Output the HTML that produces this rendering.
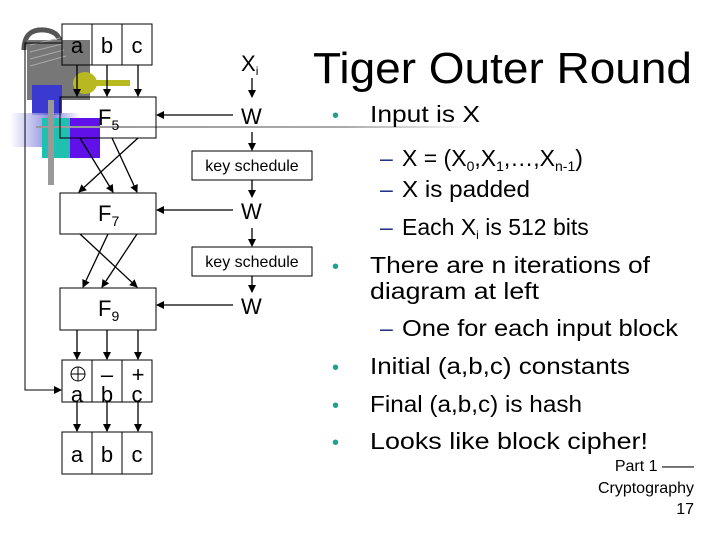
<!DOCTYPE html>
<html><head><style>
body{margin:0;background:#fff;}
svg text{font-family:"Liberation Sans",sans-serif;}
</style></head><body>
<svg width="720" height="540" xmlns="http://www.w3.org/2000/svg">
<defs>
<marker id="ar" markerWidth="8" markerHeight="8" refX="7" refY="4" orient="auto" markerUnits="userSpaceOnUse"><path d="M0,0 L8,4 L0,8 z" fill="#000"/></marker>
<linearGradient id="bg1" x1="0" x2="1"><stop offset="0" stop-color="#fff"/><stop offset="0.6" stop-color="#6a6ad8"/><stop offset="1" stop-color="#fff"/></linearGradient>
<linearGradient id="gl" x1="0" x2="1"><stop offset="0" stop-color="#999"/><stop offset="0.7" stop-color="#aaa"/><stop offset="1" stop-color="#fff"/></linearGradient>
</defs>
<path d="M24,50 Q24,28 45,30 Q62,32 60,48" fill="none" stroke="#555" stroke-width="5"/>
<rect x="27" y="40" width="63" height="60" fill="#777"/>
<g stroke="#aaa" stroke-width="1">
<line x1="30" y1="45" x2="60" y2="38"/><line x1="30" y1="52" x2="62" y2="44"/><line x1="30" y1="59" x2="64" y2="50"/><line x1="30" y1="66" x2="66" y2="56"/>
</g>
<rect x="32" y="85" width="30" height="30" fill="#3a3ad0"/>
<rect x="10" y="113" width="70" height="34" fill="url(#bg1)" opacity="0.8"/>
<rect x="42" y="118" width="28" height="40" fill="#20c0b0"/>
<rect x="70" y="118" width="30" height="40" fill="#6010e8"/>
<rect x="48" y="100" width="6" height="85" fill="#999"/>
<ellipse cx="85" cy="83" rx="12" ry="11" fill="#b8b820"/>
<rect x="85" y="80" width="45" height="6" fill="#b8b820"/>
<rect x="36" y="126" width="440" height="2" fill="url(#gl)"/>
<polyline points="62,43 25,43 25,390 60,390" fill="none" stroke="#000"/>
<line x1="25" y1="390" x2="61" y2="390" stroke="#000" marker-end="url(#ar)"/>
<g fill="none" stroke="#000">
<rect x="62" y="24" width="90" height="41"/>
<line x1="92" y1="24" x2="92" y2="65"/><line x1="122" y1="24" x2="122" y2="65"/>
<rect x="60" y="97" width="96" height="41"/>
<rect x="60" y="193" width="96" height="41"/>
<rect x="60" y="288" width="96" height="42"/>
<rect x="62" y="360" width="90" height="42"/>
<line x1="92" y1="360" x2="92" y2="402"/><line x1="122" y1="360" x2="122" y2="402"/>
<rect x="62" y="432" width="90" height="42"/>
<line x1="92" y1="432" x2="92" y2="474"/><line x1="122" y1="432" x2="122" y2="474"/>
<rect x="192" y="151" width="120" height="29"/>
<rect x="192" y="247" width="120" height="29"/>
</g>
<g stroke="#000" stroke-width="1.3" marker-end="url(#ar)">
<line x1="77" y1="65" x2="77" y2="96"/><line x1="107" y1="65" x2="107" y2="96"/><line x1="138" y1="65" x2="138" y2="96"/>
<line x1="80" y1="138" x2="113" y2="192"/><line x1="112" y1="138" x2="137" y2="192"/><line x1="138" y1="138" x2="79" y2="192"/>
<line x1="80" y1="234" x2="137" y2="287"/><line x1="108" y1="234" x2="83" y2="287"/><line x1="137" y1="234" x2="102" y2="287"/>
<line x1="77" y1="330" x2="77" y2="359"/><line x1="107" y1="330" x2="107" y2="359"/><line x1="138" y1="330" x2="138" y2="359"/>
<line x1="77" y1="402" x2="77" y2="431"/><line x1="107" y1="402" x2="107" y2="431"/><line x1="138" y1="402" x2="138" y2="431"/>
<line x1="233" y1="115" x2="157" y2="115"/><line x1="233" y1="210" x2="157" y2="210"/><line x1="233" y1="305" x2="157" y2="305"/>
<line x1="252" y1="78" x2="252" y2="97"/><line x1="252" y1="132" x2="252" y2="150"/><line x1="252" y1="180" x2="252" y2="197"/><line x1="252" y1="228" x2="252" y2="246"/><line x1="252" y1="276" x2="252" y2="292"/>
</g>
<g font-size="22" fill="#000" text-anchor="middle">
<text x="77" y="53">a</text><text x="107" y="53">b</text><text x="137" y="53">c</text>
<text x="77" y="462">a</text><text x="107" y="462">b</text><text x="137" y="462">c</text>
<text x="77" y="402">a</text><text x="107" y="402">b</text><text x="137" y="402">c</text>
<text x="107" y="382">–</text><text x="138" y="382">+</text>
</g>
<circle cx="78" cy="374" r="7" fill="none" stroke="#000"/><line x1="71" y1="374" x2="85" y2="374" stroke="#000"/><line x1="78" y1="367" x2="78" y2="381" stroke="#000"/>
<g font-size="22" fill="#000">
<text x="98" y="125">F<tspan font-size="14" dy="5">5</tspan></text>
<text x="98" y="221">F<tspan font-size="14" dy="5">7</tspan></text>
<text x="98" y="316">F<tspan font-size="14" dy="5">9</tspan></text>
<text x="241" y="71">X<tspan font-size="12" dy="4">i</tspan></text>
<text x="241" y="124">W</text><text x="241" y="219">W</text><text x="241" y="314">W</text>
</g>
<g font-size="16" text-anchor="middle"><text x="252" y="171">key schedule</text><text x="252" y="267">key schedule</text></g>
<text x="313" y="83" font-size="44" textLength="379" lengthAdjust="spacingAndGlyphs">Tiger Outer Round</text>
<g font-size="23" fill="#000">
<text x="332" y="122" fill="#20a090" font-size="20">•</text><text x="370" y="122" textLength="110" lengthAdjust="spacingAndGlyphs">Input is X</text>
<text x="380" y="166" fill="#223388">–</text><text x="402" y="166">X = (X<tspan font-size="14" dy="5">0</tspan><tspan dy="-5">,X</tspan><tspan font-size="14" dy="5">1</tspan><tspan dy="-5">,…,X</tspan><tspan font-size="14" dy="5">n-1</tspan><tspan dy="-5">)</tspan></text>
<text x="380" y="197" fill="#223388">–</text><text x="402" y="197" textLength="128" lengthAdjust="spacingAndGlyphs">X is padded</text>
<text x="380" y="235" fill="#223388">–</text><text x="402" y="235">Each X<tspan font-size="12" dy="4">i</tspan><tspan dy="-4"> is 512 bits</tspan></text>
<text x="332" y="273" fill="#20a090" font-size="20">•</text><text x="370" y="273" textLength="280" lengthAdjust="spacingAndGlyphs">There are n iterations of</text>
<text x="370" y="299" textLength="169" lengthAdjust="spacingAndGlyphs">diagram at left</text>
<text x="380" y="336" fill="#223388">–</text><text x="402" y="336" textLength="276" lengthAdjust="spacingAndGlyphs">One for each input block</text>
<text x="332" y="374" fill="#20a090" font-size="20">•</text><text x="370" y="374" textLength="260" lengthAdjust="spacingAndGlyphs">Initial (a,b,c) constants</text>
<text x="332" y="412" fill="#20a090" font-size="20">•</text><text x="370" y="412" textLength="212" lengthAdjust="spacingAndGlyphs">Final (a,b,c) is hash</text>
<text x="332" y="449" fill="#20a090" font-size="20">•</text><text x="370" y="449" textLength="278" lengthAdjust="spacingAndGlyphs">Looks like block cipher!</text>
</g>
<g font-size="16" text-anchor="end">
<text x="694" y="471">Part 1 ——</text>
<text x="694" y="493">Cryptography</text>
<text x="694" y="514">17</text>
</g>
</svg>
</body></html>
